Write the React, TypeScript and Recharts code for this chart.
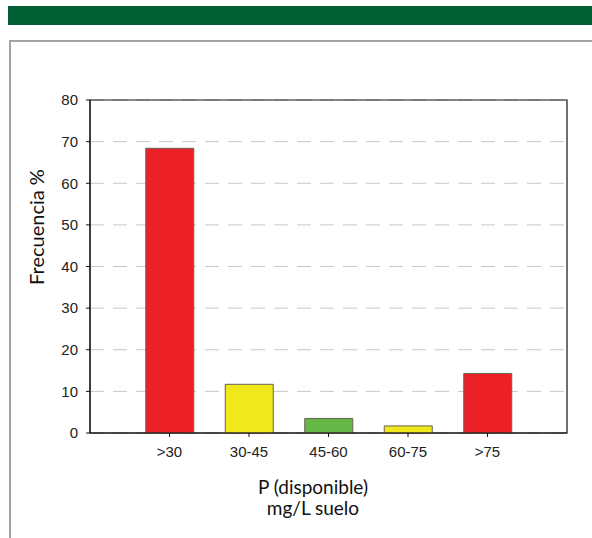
import { BarChart, Bar, Cell, XAxis, YAxis, CartesianGrid, ReferenceArea } from 'recharts';

const categories = ['>30', '30-45', '45-60', '60-75', '>75'];
const frecuencia = [68.4, 11.7, 3.5, 1.7, 14.3];
const barColors = ['#ec2128', '#f0e81a', '#66b846', '#f0e81a', '#ec2128'];
const yTicks = [0, 10, 20, 30, 40, 50, 60, 70, 80];

// categories sit at positions 1..5 on an axis that runs 0..6 (half-gap margins at both ends)
const chartData = categories.map((c, i) => ({ pos: i + 1, rango: c, valor: frecuencia[i] }));
const xTicks = chartData.map((d) => d.pos);

const tickStyle = { fontSize: 15, fill: '#222', fontFamily: 'Liberation Sans, Arial, sans-serif' };
const titleFont = 'Lato, "Open Sans", sans-serif';

export default function App() {
  return (
    <div style={{ position: 'absolute', left: 0, top: 0, width: 592, height: 538, background: '#fff', overflow: 'hidden' }}>
      {/* green header band */}
      <div style={{ position: 'absolute', left: 8, top: 6, width: 584, height: 19, background: '#005f33' }} />
      {/* card border */}
      <div
        style={{
          position: 'absolute',
          left: 9,
          top: 40,
          width: 600,
          height: 520,
          borderTop: '2px solid #a3a3a3',
          borderLeft: '2px solid #a3a3a3',
        }}
      />
      <div style={{ position: 'absolute', left: 0, top: 0 }}>
        <BarChart
          width={592}
          height={538}
          data={chartData}
          margin={{ top: 100, right: 25, left: 30, bottom: 75 }}
        >
          <CartesianGrid vertical={false} stroke="#c8c8c8" strokeDasharray="14 9" />
          <XAxis
            dataKey="pos"
            type="number"
            domain={[0, categories.length + 1]}
            ticks={xTicks}
            tickFormatter={(v: number) => categories[v - 1] ?? ''}
            tick={tickStyle}
            tickSize={4}
            tickMargin={9}
            stroke="#111"
            height={30}
          />
          <YAxis
            domain={[0, 80]}
            ticks={yTicks}
            tick={tickStyle}
            tickSize={4}
            tickMargin={8}
            stroke="#111"
            width={60}
          />
          <Bar dataKey="valor" barSize={48} stroke="#6a5e55" strokeWidth={1} isAnimationActive={false}>
            {chartData.map((d, i) => (
              <Cell key={d.rango} fill={barColors[i]} />
            ))}
          </Bar>
          {/* plot frame */}
          <ReferenceArea y1={0} y2={80} fill="none" fillOpacity={0} stroke="#111" strokeWidth={1.2} />
        </BarChart>
      </div>
      {/* axis titles */}
      <div
        style={{
          position: 'absolute',
          left: 36,
          top: 227,
          transform: 'translate(-50%, -50%) rotate(-90deg)',
          whiteSpace: 'nowrap',
          fontFamily: titleFont,
          fontSize: 20,
          color: '#111',
        }}
      >
        Frecuencia %
      </div>
      <div
        style={{
          position: 'absolute',
          left: 213,
          width: 200,
          top: 476,
          textAlign: 'center',
          fontFamily: titleFont,
          fontSize: 19,
          lineHeight: '21px',
          color: '#111',
        }}
      >
        P (disponible)
        <br />
        mg/L suelo
      </div>
    </div>
  );
}
